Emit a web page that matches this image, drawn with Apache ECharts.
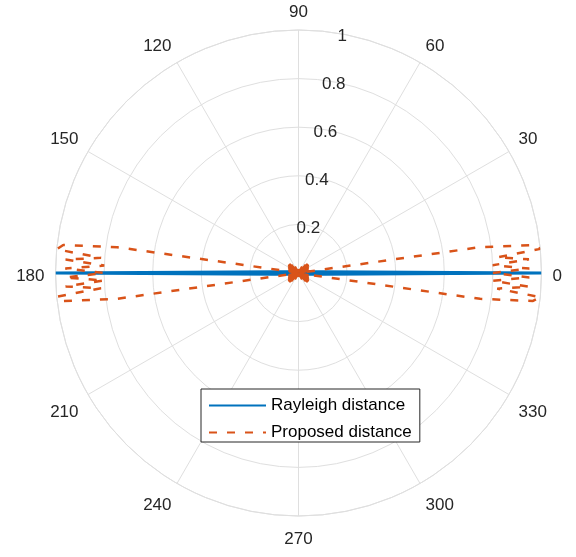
<!DOCTYPE html>
<html>
<head>
<meta charset="utf-8">
<script src="https://cdn.jsdelivr.net/npm/echarts@6/dist/echarts.min.js"></script>
<style>
  html, body { margin: 0; padding: 0; background: #ffffff; }
  #chart { width: 576px; height: 557px; }
</style>
</head>
<body>
<div id="chart"></div>
<script>
// Rayleigh distance: narrow beam along 0° / 180°
const rayleighTheta = [0, 3, 90, 177, 180, 183, 270, 357, 360];
const rayleighR     = [1, 0.1, 0.005, 0.1, 1, 0.1, 0.005, 0.1, 1];

// Proposed distance lobes, walked counter-clockwise from 0° to 360°
// east lobe, upper half
const eastUpperTheta = [0, 1.1, 2.3, 3.4, 4.5, 5.7, 6.8, 8.1];
const eastUpperR     = [0.80, 0.95, 0.80, 0.95, 0.82, 1.0, 0.972, 0.755];
// west lobe
const westTheta = [171.9, 173.2, 174.4, 175.6, 176.7, 177.8, 178.9, 180, 181.1, 182.2, 183.3, 184.4, 185.6, 186.8, 188.1];
const westR     = [0.754, 0.975, 1.0, 0.815, 0.96, 0.80, 0.96, 0.80, 0.96, 0.80, 0.96, 0.815, 1.0, 0.975, 0.754];
// east lobe, lower half
const eastLowerTheta = [351.9, 353.2, 354.3, 355.5, 356.6, 357.7, 358.9, 360];
const eastLowerR     = [0.755, 0.972, 1.0, 0.82, 0.95, 0.80, 0.95, 0.80];
// where the lobes drop to (almost) zero
const nullTheta = [10, 190];
const nullR     = [0.004, 0.004];

// near-zero core of the proposed distance, densely oscillating around the origin
const coreUpperTheta = [10, 12, 14, 16, 18, 20, 22, 24, 26, 28, 30, 32, 34, 36, 38, 40, 42, 44, 46, 48, 50,
                        60, 70, 80, 90, 100, 110, 120,
                        130, 132, 134, 136, 138, 140, 142, 144, 146, 148, 150, 152, 154, 156, 158, 160, 162, 164, 166, 168, 170];
const coreUpperR     = [0.004, 0.042, 0.004, 0.043, 0.004, 0.044, 0.004, 0.045, 0.004, 0.047, 0.004, 0.049, 0.004, 0.051, 0.004, 0.054, 0.004, 0.052, 0.004, 0.045, 0.004,
                        0.03, 0.004, 0.015, 0.004, 0.015, 0.004, 0.03,
                        0.004, 0.045, 0.004, 0.052, 0.004, 0.054, 0.004, 0.051, 0.004, 0.049, 0.004, 0.047, 0.004, 0.045, 0.004, 0.044, 0.004, 0.043, 0.004, 0.042, 0.004, 0.042, 0.004];
const coreLowerTheta = [190, 192, 194, 196, 198, 200, 202, 204, 206, 208, 210, 212, 214, 216, 218, 220, 222, 224, 226, 228, 230,
                        240, 250, 260, 270, 280, 290, 300,
                        310, 312, 314, 316, 318, 320, 322, 324, 326, 328, 330, 332, 334, 336, 338, 340, 342, 344, 346, 348, 350];
const coreLowerR     = [0.004, 0.042, 0.004, 0.043, 0.004, 0.044, 0.004, 0.045, 0.004, 0.047, 0.004, 0.049, 0.004, 0.051, 0.004, 0.054, 0.004, 0.052, 0.004, 0.045, 0.004,
                        0.03, 0.004, 0.015, 0.004, 0.015, 0.004, 0.03,
                        0.004, 0.045, 0.004, 0.052, 0.004, 0.054, 0.004, 0.051, 0.004, 0.049, 0.004, 0.047, 0.004, 0.045, 0.004, 0.044, 0.004, 0.043, 0.004, 0.042, 0.004, 0.042, 0.004];

const seriesNames = ['Rayleigh distance', 'Proposed distance'];

function pairs(thetas, rs) {
  return thetas.map((t, i) => [rs[i], t]);
}

const rayleighData = pairs(rayleighTheta, rayleighR);
const nullPts = pairs(nullTheta, nullR);
const lobeData = [].concat(
  pairs(eastUpperTheta, eastUpperR),
  [nullPts[0]],
  pairs(westTheta, westR),
  [nullPts[1]],
  pairs(eastLowerTheta, eastLowerR)
);
const coreData = [].concat(
  pairs(coreUpperTheta, coreUpperR),
  pairs(coreLowerTheta, coreLowerR)
);

const FONT = 'Liberation Sans, Arial, Helvetica, sans-serif';
const GRID = '#dfdfdf';
const TEXT = '#262626';
const BLUE = '#0072BD';
const ORANGE = '#D95319';
const CENTER = [298.5, 273];
const RADIUS = 243;

// angle labels sit a little low
function angleLabel(v) {
  if (v === 360) return '';
  if (v > 0 && v < 180) return '{u|' + v + '}';
  if (v === 0 || v === 180) return '{m|' + v + '}';
  return '{d|' + v + '}';
}
const labelBase = { fontSize: 17, fontFamily: FONT, color: TEXT };

const chart = echarts.init(document.getElementById('chart'), null, { renderer: 'canvas' });

chart.setOption({
  backgroundColor: '#ffffff',
  animation: false,
  polar: [
    { center: CENTER, radius: RADIUS },
    { center: CENTER, radius: RADIUS }
  ],
  angleAxis: [
    {
      polarIndex: 0,
      type: 'value',
      min: 0,
      max: 360,
      interval: 30,
      startAngle: 0,
      clockwise: false,
      axisLine: { show: true, lineStyle: { color: GRID, width: 1 } },
      axisTick: { show: false },
      splitLine: { show: true, lineStyle: { color: GRID, width: 1 } },
      axisLabel: {
        show: true,
        margin: 11,
        color: TEXT,
        fontSize: 17,
        fontFamily: FONT,
        formatter: angleLabel,
        rich: {
          u: Object.assign({ lineHeight: 13 }, labelBase),
          m: Object.assign({ padding: [7, 0, 0, 0] }, labelBase),
          d: Object.assign({ padding: [4, 0, 0, 0] }, labelBase)
        }
      }
    },
    {
      polarIndex: 1,
      type: 'value',
      min: 0,
      max: 360,
      startAngle: 80,
      clockwise: false,
      show: false
    }
  ],
  radiusAxis: [
    {
      polarIndex: 0,
      type: 'value',
      min: 0,
      max: 1,
      interval: 0.2,
      axisLine: { show: false },
      axisTick: { show: false },
      axisLabel: { show: false },
      splitLine: { show: true, lineStyle: { color: GRID, width: 1 } }
    },
    {
      polarIndex: 1,
      type: 'value',
      min: 0,
      max: 1,
      interval: 0.2,
      axisLine: { show: false },
      axisTick: { show: false },
      splitLine: { show: false },
      axisLabel: {
        show: true,
        margin: 0,
        align: 'center',
        verticalAlign: 'middle',
        color: TEXT,
        fontSize: 17,
        fontFamily: FONT,
        formatter: v => (v === 0 ? '' : '{r|' + (+v.toFixed(1)) + '}'),
        rich: {
          r: Object.assign({ padding: [6, 0, 0, 3] }, labelBase)
        }
      }
    }
  ],
  legend: {
    data: seriesNames,
    orient: 'vertical',
    left: 201,
    top: 389,
    backgroundColor: '#ffffff',
    borderColor: TEXT,
    borderWidth: 1,
    borderRadius: 0,
    padding: [8, 8, 1, 7],
    itemWidth: 57,
    itemHeight: 14,
    itemGap: 10,
    itemStyle: { color: 'rgba(0,0,0,0)', borderColor: 'rgba(0,0,0,0)', borderWidth: 0, opacity: 0 },
    textStyle: { fontSize: 17, color: '#000000', fontFamily: FONT, lineHeight: 17 }
  },
  series: [
    {
      name: seriesNames[0],
      type: 'line',
      coordinateSystem: 'polar',
      polarIndex: 0,
      data: rayleighData,
      symbol: 'none',
      lineStyle: { color: BLUE, width: 3 },
      itemStyle: { color: BLUE },
      z: 3
    },
    {
      name: seriesNames[1],
      type: 'line',
      coordinateSystem: 'polar',
      polarIndex: 0,
      data: lobeData,
      symbol: 'none',
      lineStyle: { color: ORANGE, width: 2.5, type: [8, 10], cap: 'butt' },
      itemStyle: { color: ORANGE },
      z: 4
    },
    {
      // the dense dashes near the origin merge into a solid patch
      name: seriesNames[1],
      type: 'line',
      coordinateSystem: 'polar',
      polarIndex: 0,
      data: coreData,
      symbol: 'none',
      lineStyle: { color: ORANGE, width: 2.5, type: 'solid' },
      itemStyle: { color: ORANGE },
      z: 4
    }
  ]
});
</script>
</body>
</html>
